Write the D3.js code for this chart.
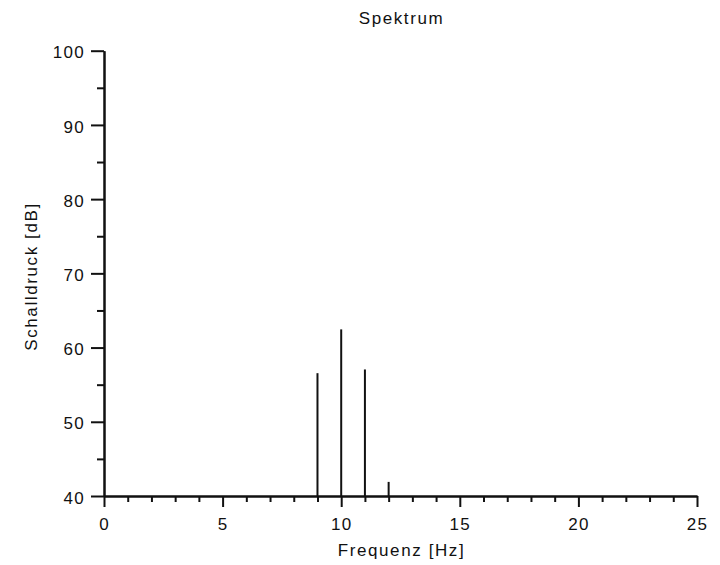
<!DOCTYPE html>
<html>
<head>
<meta charset="utf-8">
<script src="https://cdn.jsdelivr.net/npm/d3@7"></script>
<style>
  html, body { margin: 0; padding: 0; background: #fff; }
  svg { display: block; }
  text { font-family: "Liberation Sans", Arial, Helvetica, sans-serif; fill: #111; }
</style>
</head>
<body>
<svg id="chart" width="720" height="565"></svg>
<script>
// ---- data ----
const frequencies = [9, 10, 11, 12];
const levels = [56.55, 62.45, 57.05, 41.9];
const xMajorTicks = [0, 5, 10, 15, 20, 25];
const xMinorTicks = [1, 2, 3, 4, 6, 7, 8, 9, 11, 12, 13, 14, 16, 17, 18, 19, 21, 22, 23, 24];
const yMajorTicks = [40, 50, 60, 70, 80, 90, 100];
const yMinorTicks = [45, 55, 65, 75, 85, 95];
const chartTitle = "Spektrum";
const xLabel = "Frequenz [Hz]";
const yLabel = "Schalldruck [dB]";

// ---- layout ----
const plotLeft = 104, plotRight = 697, plotTop = 50.7, plotBottom = 496;
const ink = "#111";
const fontSize = 17, spacing = "1.6px";

const svg = d3.select("#chart");
const x = d3.scaleLinear().domain([0, 25]).range([plotLeft, plotRight]);
const y = d3.scaleLinear().domain([40, 100]).range([plotBottom, plotTop]);

function styleAxis(g) {
  g.selectAll("path.domain").attr("stroke", ink).attr("stroke-width", 2);
  g.selectAll(".tick line").attr("stroke", ink).attr("stroke-width", 2);
  g.selectAll(".tick text")
    .attr("fill", ink)
    .style("font-family", '"Liberation Sans", Arial, Helvetica, sans-serif')
    .style("font-size", fontSize + "px")
    .style("letter-spacing", "1.3px");
}

// x axis: minor ticks
svg.append("g")
  .attr("transform", `translate(0,${plotBottom})`)
  .call(d3.axisBottom(x).tickValues(xMinorTicks).tickSize(6).tickSizeOuter(0).tickFormat(""))
  .call(styleAxis);
// x axis: major ticks
svg.append("g")
  .attr("transform", `translate(0,${plotBottom})`)
  .call(d3.axisBottom(x).tickValues(xMajorTicks).tickSize(11).tickSizeOuter(0).tickPadding(11).tickFormat(d3.format("d")))
  .call(styleAxis);

// y axis: minor ticks
svg.append("g")
  .attr("transform", `translate(${plotLeft},0)`)
  .call(d3.axisLeft(y).tickValues(yMinorTicks).tickSize(7).tickSizeOuter(0).tickFormat(""))
  .call(styleAxis);
// y axis: major ticks
const yMajor = svg.append("g")
  .attr("transform", `translate(${plotLeft},0)`)
  .call(d3.axisLeft(y).tickValues(yMajorTicks).tickSize(13).tickSizeOuter(0).tickPadding(6).tickFormat(d3.format("d")))
  .call(styleAxis);
yMajor.selectAll(".tick text").attr("dy", "0.42em");

// spectral lines
svg.append("g")
  .selectAll("line")
  .data(frequencies)
  .join("line")
  .attr("x1", d => x(d))
  .attr("x2", d => x(d))
  .attr("y1", y(40))
  .attr("y2", (d, i) => y(levels[i]))
  .attr("stroke", ink)
  .attr("stroke-width", 2);

// title
svg.append("text")
  .attr("x", (plotLeft + plotRight) / 2 + 1)
  .attr("y", 24)
  .attr("text-anchor", "middle")
  .style("font-size", fontSize + "px")
  .style("letter-spacing", spacing)
  .text(chartTitle);

// x label
svg.append("text")
  .attr("x", (plotLeft + plotRight) / 2 + 1)
  .attr("y", 556)
  .attr("text-anchor", "middle")
  .style("font-size", fontSize + "px")
  .style("letter-spacing", spacing)
  .text(xLabel);

// y label
svg.append("text")
  .attr("transform", `translate(37,276.5) rotate(-90)`)
  .attr("text-anchor", "middle")
  .style("font-size", fontSize + "px")
  .style("letter-spacing", spacing)
  .text(yLabel);
</script>
</body>
</html>
